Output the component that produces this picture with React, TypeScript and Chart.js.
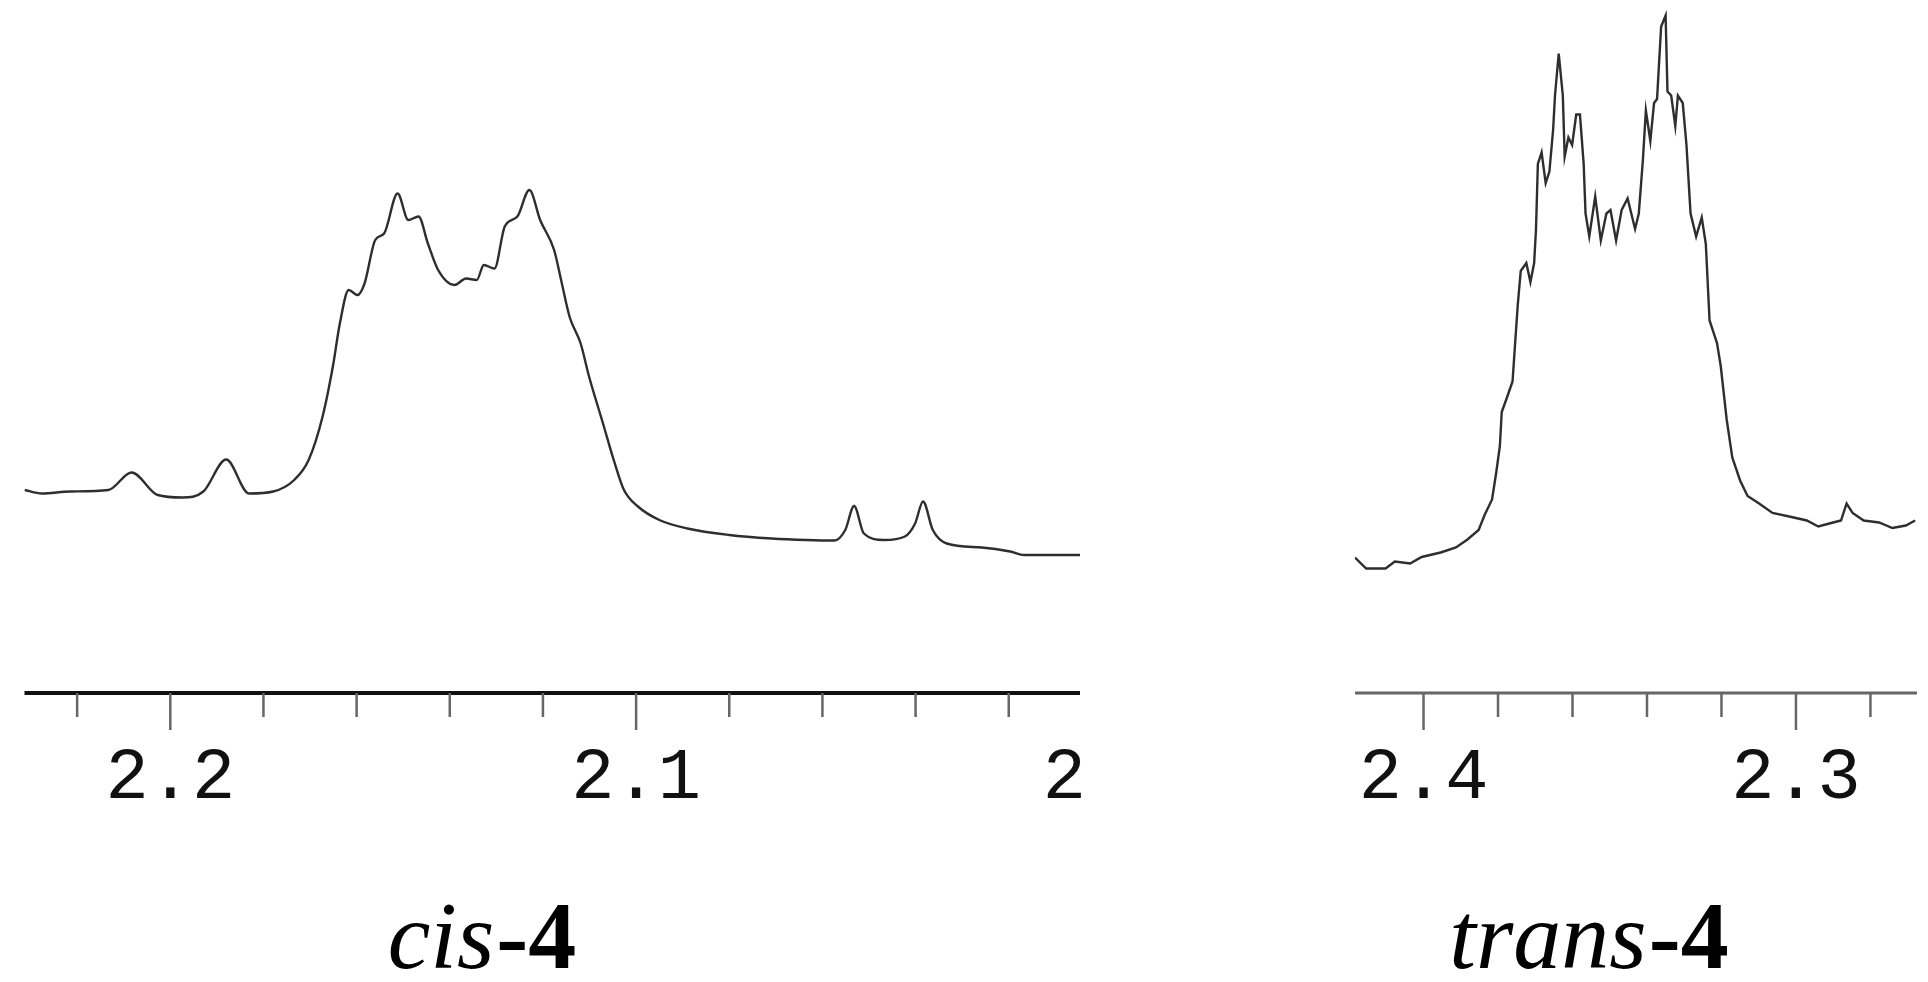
import React, { useEffect, useRef } from "react";
import { Chart, registerables } from "chart.js";

Chart.register(...registerables);

// ---- cis-4 spectrum (chemical shift in ppm, relative intensity) ----
const cisShift = [
  2.2313, 2.2276, 2.2215, 2.2133, 2.2083, 2.2027, 2.1974, 2.1929, 2.188, 2.1831,
  2.1779, 2.1734, 2.1703, 2.1673, 2.1651, 2.1636, 2.1617, 2.1598, 2.1583, 2.156,
  2.1541, 2.1512, 2.1489, 2.1467, 2.1447, 2.1425, 2.139, 2.1365, 2.1342, 2.1327,
  2.1304, 2.1282, 2.1255, 2.1229, 2.1206, 2.1176, 2.1161, 2.1143, 2.1119, 2.1101,
  2.1071, 2.1048, 2.1026, 2.0996, 2.095, 2.089, 2.08, 2.0709, 2.0634, 2.0574,
  2.0551, 2.0532, 2.0511, 2.0468, 2.0423, 2.0401, 2.0384, 2.0363, 2.0333, 2.0258,
  2.0197, 2.0167, 2.0047,
];
const cisIntensity = [
  40.6, 39.9, 40.3, 40.6, 44.1, 39.6, 39.1, 40.3, 46.7, 39.9,
  40.3, 42.6, 46.6, 55.3, 65.3, 73.9, 80.6, 79.6, 81.9, 90.6,
  91.9, 99.9, 94.6, 95.3, 89.9, 84.6, 81.6, 82.9, 82.6, 85.6,
  84.9, 93.3, 95.3, 100.6, 94.6, 88.6, 82.6, 75.3, 69.9, 63.3,
  53.9, 46.6, 40.6, 37.3, 34.6, 32.9, 31.6, 30.9, 30.6, 30.5,
  32.6, 37.4, 31.9, 30.6, 31.3, 33.9, 38.3, 32.6, 29.9, 29.1,
  28.3, 27.6, 27.6,
];

// ---- trans-4 spectrum ----
const transShift = [
  2.4184, 2.4154, 2.4102, 2.4077, 2.4036, 2.4005, 2.3954, 2.3913, 2.3882, 2.3852,
  2.3836, 2.3816, 2.3805, 2.3795, 2.379, 2.3775, 2.3761, 2.3754, 2.3747, 2.3739,
  2.3724, 2.3713, 2.3703, 2.3698, 2.3693, 2.3683, 2.3672, 2.3662, 2.3652, 2.3647,
  2.3637, 2.3626, 2.3621, 2.3611, 2.3601, 2.359, 2.358, 2.357, 2.3565, 2.3555,
  2.3539, 2.3524, 2.3509, 2.3498, 2.3483, 2.3468, 2.3452, 2.3432, 2.3422, 2.3411,
  2.3403, 2.3391, 2.3381, 2.3373, 2.3362, 2.335, 2.3345, 2.3335, 2.3324, 2.3317,
  2.3304, 2.3294, 2.3283, 2.3268, 2.3253, 2.3242, 2.3232, 2.3212, 2.3202, 2.3186,
  2.3171, 2.315, 2.313, 2.3099, 2.3063, 2.3012, 2.2971, 2.294, 2.29, 2.2879,
  2.2864, 2.2848, 2.2818, 2.2777, 2.2741, 2.2705, 2.268,
];
const transIntensity = [
  27.1, 24.9, 24.9, 26.3, 25.9, 27.2, 28.1, 29.1, 30.7, 32.6,
  35.6, 38.7, 44.0, 49.4, 56.2, 59.3, 62.3, 70.0, 77.6, 84.4,
  86.0, 82.2, 86.0, 92.8, 105.8, 108.1, 102.0, 104.3, 112.7, 119.5,
  127.9, 119.5, 107.3, 111.1, 109.6, 115.7, 115.7, 105.8, 95.9, 91.3,
  99.3, 90.5, 95.9, 96.6, 90.5, 96.6, 98.9, 92.8, 95.9, 106.6,
  116.5, 110.4, 118.0, 118.8, 133.3, 135.5, 120.3, 119.5, 113.4, 119.5,
  118.0, 109.6, 95.9, 91.3, 95.1, 89.8, 74.5, 70.0, 65.4, 54.7,
  47.1, 42.5, 39.4, 37.9, 36.0, 35.2, 34.5, 33.3, 34.1, 34.5,
  37.9, 36.0, 34.5, 34.1, 33.0, 33.5, 34.5,
];

// ---- axes ----
const cisRange = [2.0047, 2.2313];
const cisMajorTicks = [2.2, 2.1];
const cisMinorTicks = [2.22, 2.18, 2.16, 2.14, 2.12, 2.08, 2.06, 2.04, 2.02];
const cisLabelValues = [2.2, 2.1, 2.0];
const cisLabels = ["2.2", "2.1", "2"];

const transRange = [2.2675, 2.4184];
const transMajorTicks = [2.4, 2.3];
const transMinorTicks = [2.38, 2.36, 2.34, 2.32, 2.28];
const transLabelValues = [2.4, 2.3];
const transLabels = ["2.4", "2.3"];

const captionCis = ["cis", "-4"];
const captionTrans = ["trans", "-4"];

type AxisCfg = {
  major: number[];
  minor: number[];
  labelValues: number[];
  labels: string[];
  caption: string[];
  captionCenter: number;
  axisColor: string;
  axisWidth: number;
};

function makeAxisPlugin(cfg: AxisCfg) {
  return {
    id: "nmrAxis",
    afterDraw(chart: any) {
      const { ctx, chartArea } = chart;
      const x = chart.scales.x;
      const y0 = chartArea.bottom;
      ctx.save();
      // axis line
      ctx.strokeStyle = cfg.axisColor;
      ctx.lineWidth = cfg.axisWidth;
      ctx.beginPath();
      ctx.moveTo(chartArea.left, y0);
      ctx.lineTo(chartArea.right, y0);
      ctx.stroke();
      // ticks
      ctx.strokeStyle = "#666";
      ctx.lineWidth = 2.5;
      const drawTick = (v: number, len: number) => {
        const px = x.getPixelForValue(v);
        if (px < chartArea.left - 1 || px > chartArea.right + 1) return;
        ctx.beginPath();
        ctx.moveTo(px, y0);
        ctx.lineTo(px, y0 + len);
        ctx.stroke();
      };
      cfg.minor.forEach((v) => drawTick(v, 24));
      cfg.major.forEach((v) => drawTick(v, 37));
      // labels
      ctx.fillStyle = "#111";
      ctx.font = '72px "Liberation Mono", "DejaVu Sans Mono", monospace';
      ctx.textAlign = "center";
      ctx.textBaseline = "alphabetic";
      cfg.labelValues.forEach((v, i) => {
        const text = cfg.labels[i];
        const w = ctx.measureText(text).width;
        let px = x.getPixelForValue(v);
        px = Math.min(px, chartArea.right - w / 2 + 6);
        px = Math.max(px, chartArea.left + w / 2);
        ctx.fillText(text, px, y0 + 105);
      });
      // caption
      const fItal = 'italic 96px "Liberation Serif", "Times New Roman", serif';
      const fBold = 'bold 96px "Liberation Serif", "Times New Roman", serif';
      ctx.textAlign = "left";
      ctx.fillStyle = "#000";
      ctx.font = fItal;
      const w1 = ctx.measureText(cfg.caption[0]).width;
      ctx.font = fBold;
      const w2 = ctx.measureText(cfg.caption[1]).width;
      const start = cfg.captionCenter - (w1 + w2) / 2;
      ctx.font = fItal;
      ctx.fillText(cfg.caption[0], start, 968);
      ctx.font = fBold;
      ctx.fillText(cfg.caption[1], start + w1 + 2, 968);
      ctx.restore();
    },
  };
}

function makeConfig(
  xs: number[],
  ys: number[],
  range: number[],
  padding: { left: number; right: number; top: number; bottom: number },
  smooth: boolean,
  axis: AxisCfg
): any {
  return {
    type: "line",
    data: {
      datasets: [
        {
          data: xs.map((v, i) => ({ x: v, y: ys[i] })),
          borderColor: "#2e2e2e",
          borderWidth: 2.4,
          pointRadius: 0,
          fill: false,
          tension: smooth ? 0.4 : 0,
          cubicInterpolationMode: smooth ? "monotone" : "default",
        },
      ],
    },
    options: {
      animation: false,
      responsive: false,
      layout: { padding },
      plugins: {
        legend: { display: false },
        tooltip: { enabled: false },
        title: { display: false },
      },
      scales: {
        x: { type: "linear", reverse: true, min: range[0], max: range[1], display: false },
        y: { type: "linear", min: 0, max: 138, display: false },
      },
    },
    plugins: [makeAxisPlugin(axis)],
  };
}

export default function App() {
  const leftRef = useRef<HTMLCanvasElement>(null);
  const rightRef = useRef<HTMLCanvasElement>(null);

  useEffect(() => {
    const c1 = new Chart(
      leftRef.current as HTMLCanvasElement,
      makeConfig(
        cisShift,
        cisIntensity,
        cisRange,
        { left: 24.5, right: 20, top: 3, bottom: 289 },
        true,
        {
          major: cisMajorTicks,
          minor: cisMinorTicks,
          labelValues: cisLabelValues,
          labels: cisLabels,
          caption: captionCis,
          captionCenter: 481,
          axisColor: "#111",
          axisWidth: 4,
        }
      )
    );
    const c2 = new Chart(
      rightRef.current as HTMLCanvasElement,
      makeConfig(
        transShift,
        transIntensity,
        transRange,
        { left: 55, right: 11, top: 3, bottom: 289 },
        false,
        {
          major: transMajorTicks,
          minor: transMinorTicks,
          labelValues: transLabelValues,
          labels: transLabels,
          caption: captionTrans,
          captionCenter: 288,
          axisColor: "#666",
          axisWidth: 3,
        }
      )
    );
    return () => {
      c1.destroy();
      c2.destroy();
    };
  }, []);

  return (
    <div
      style={{
        position: "fixed",
        left: 0,
        top: 0,
        width: 1928,
        height: 982,
        background: "#fff",
        overflow: "hidden",
      }}
    >
      <canvas
        ref={leftRef}
        width={1100}
        height={982}
        style={{ position: "absolute", left: 0, top: 0, width: 1100, height: 982 }}
      />
      <canvas
        ref={rightRef}
        width={628}
        height={982}
        style={{ position: "absolute", left: 1300, top: 0, width: 628, height: 982 }}
      />
    </div>
  );
}
